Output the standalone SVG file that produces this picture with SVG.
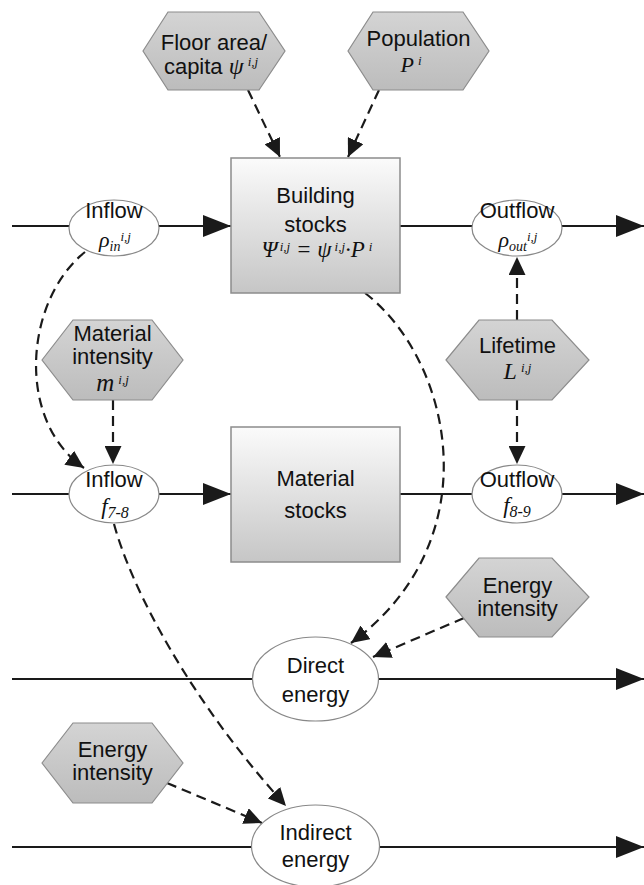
<svg xmlns="http://www.w3.org/2000/svg" width="644" height="885" viewBox="0 0 644 885">
<style>
.t{font-family:"Liberation Sans",Arial,sans-serif;font-size:22px;fill:#111;text-anchor:middle}
.m{font-family:"Liberation Serif","Times New Roman",serif;font-style:italic;fill:#111;text-anchor:middle}
.hex{fill:url(#hexg);stroke:#8c8c8c;stroke-width:1.2}
.box{fill:url(#boxg);stroke:#8c8c8c;stroke-width:1.5}
.ell{fill:#fff;stroke:#888;stroke-width:1.2}
.solid{fill:none;stroke:#1a1a1a;stroke-width:2.2}
.dash{fill:none;stroke:#1a1a1a;stroke-width:2.2;stroke-dasharray:10,6}
</style>
<defs>
<linearGradient id="hexg" x1="0" y1="0" x2="0" y2="1"><stop offset="0" stop-color="#d4d4d4"/><stop offset="1" stop-color="#bcbcbc"/></linearGradient>
<linearGradient id="boxg" x1="0" y1="0" x2="0" y2="1"><stop offset="0" stop-color="#fbfbfb"/><stop offset="1" stop-color="#c6c6c6"/></linearGradient>
<marker id="big" markerUnits="userSpaceOnUse" markerWidth="28" markerHeight="22" refX="28" refY="11" orient="auto"><path d="M0,0 L28,11 L0,22 z" fill="#1a1a1a"/></marker>
<marker id="small" markerUnits="userSpaceOnUse" markerWidth="18" markerHeight="17" refX="18" refY="8.5" orient="auto"><path d="M0,0 L18,8.5 L0,17 z" fill="#1a1a1a"/></marker>
</defs>

<g id="connectors">
<path class="solid" d="M12,226 H69"/>
<path class="solid" d="M159,226 H231" marker-end="url(#big)"/>
<path class="solid" d="M400,226 H472"/>
<path class="solid" d="M562,226 H644" marker-end="url(#big)"/>
<path class="solid" d="M12,494 H69"/>
<path class="solid" d="M159,494 H231" marker-end="url(#big)"/>
<path class="solid" d="M400,494 H472"/>
<path class="solid" d="M562,494 H644" marker-end="url(#big)"/>
<path class="solid" d="M12,679 H252"/>
<path class="solid" d="M379,679 H644" marker-end="url(#big)"/>
<path class="solid" d="M12,847 H251"/>
<path class="solid" d="M380,847 H644" marker-end="url(#big)"/>

<path class="dash" d="M248,90 L280,157" marker-end="url(#small)"/>
<path class="dash" d="M379,90 L348,157" marker-end="url(#small)"/>
<path class="dash" d="M85,252 C25,300 15,420 84,468" marker-end="url(#small)"/>
<path class="dash" d="M113,400 L113,464" marker-end="url(#small)"/>
<path class="dash" d="M365,293 C452,360 492,540 351,643" marker-end="url(#small)"/>
<path class="dash" d="M517,320 L517,257" marker-end="url(#small)"/>
<path class="dash" d="M517,400 L517,464" marker-end="url(#small)"/>
<path class="dash" d="M464,618 L373,657" marker-end="url(#small)"/>
<path class="dash" d="M114,524 C132,590 190,700 286,806" marker-end="url(#small)"/>
<path class="dash" d="M167,783 L262,823" marker-end="url(#small)"/>
</g>

<g id="floor-area">
<polygon class="hex" points="143,51 168,12 259,12 285,51 259,90 168,90"/>
<text class="t" x="214" y="50">Floor area/</text>
<text class="t" x="211" y="74">capita <tspan class="m" font-size="24">ψ</tspan><tspan class="m" font-size="13" dx="4" dy="-8">i,j</tspan></text>
</g>

<g id="population">
<polygon class="hex" points="348,51 373,12 463,12 489,51 463,90 373,90"/>
<text class="t" x="418.5" y="46">Population</text>
<text class="m" x="411" y="72" font-size="22">P<tspan font-size="13" dx="4" dy="-7">i</tspan></text>
</g>

<g id="building-stocks">
<rect class="box" x="231" y="158" width="169" height="135"/>
<text class="t" x="315.5" y="203" font-size="24">Building</text>
<text class="t" x="315.5" y="232" font-size="24">stocks</text>
<text class="m" x="317" y="257" font-size="23">Ψ<tspan font-size="13" dx="2" dy="-6">i,j</tspan><tspan dy="6"> = ψ</tspan><tspan font-size="13" dx="3" dy="-6">i,j</tspan><tspan dy="6">·P</tspan><tspan font-size="13" dx="4" dy="-6">i</tspan></text>
</g>

<g id="inflow-rho">
<ellipse class="ell" cx="114" cy="228" rx="45" ry="28"/>
<text class="t" x="114" y="218">Inflow</text>
<text class="m" x="115" y="247" font-size="22">ρ<tspan font-size="14" dy="4">in</tspan><tspan font-size="13" dy="-10">i,j</tspan></text>
</g>

<g id="outflow-rho">
<ellipse class="ell" cx="517" cy="228" rx="45" ry="28"/>
<text class="t" x="517" y="218" font-size="20">Outflow</text>
<text class="m" x="518" y="247" font-size="22">ρ<tspan font-size="14" dy="4">out</tspan><tspan font-size="13" dy="-10">i,j</tspan></text>
</g>

<g id="material-intensity">
<polygon class="hex" points="42,360 73,320 152,320 183,360 152,400 73,400"/>
<text class="t" x="112.5" y="341" font-size="21">Material</text>
<text class="t" x="112.5" y="364" font-size="21">intensity</text>
<text class="m" x="112.5" y="391" font-size="25">m<tspan font-size="13" dx="4" dy="-7">i,j</tspan></text>
</g>

<g id="lifetime">
<polygon class="hex" points="446,360 479,320 552,320 589,360 552,400 479,400"/>
<text class="t" x="517.5" y="353">Lifetime</text>
<text class="m" x="517.5" y="379" font-size="24">L<tspan font-size="13" dx="4" dy="-7">i,j</tspan></text>
</g>

<g id="inflow-f">
<ellipse class="ell" cx="114" cy="494" rx="45" ry="29"/>
<text class="t" x="114" y="487">Inflow</text>
<text class="m" x="115" y="514" font-size="23">f<tspan font-size="16" dy="4">7-8</tspan></text>
</g>

<g id="material-stocks">
<rect class="box" x="231" y="427" width="169" height="135"/>
<text class="t" x="315.5" y="486" font-size="25">Material</text>
<text class="t" x="315.5" y="518" font-size="25">stocks</text>
</g>

<g id="outflow-f">
<ellipse class="ell" cx="517" cy="494" rx="45" ry="29"/>
<text class="t" x="517" y="487" font-size="20">Outflow</text>
<text class="m" x="517" y="513" font-size="23">f<tspan font-size="16" dy="4">8-9</tspan></text>
</g>

<g id="energy-intensity-direct">
<polygon class="hex" points="446,597 479,558 552,558 589,597 552,637 479,637"/>
<text class="t" x="517.5" y="593">Energy</text>
<text class="t" x="517.5" y="616">intensity</text>
</g>

<g id="direct-energy">
<ellipse class="ell" cx="315.5" cy="679" rx="63" ry="42"/>
<text class="t" x="315.5" y="673">Direct</text>
<text class="t" x="315.5" y="702">energy</text>
</g>

<g id="energy-intensity-indirect">
<polygon class="hex" points="42,763 73,723 152,723 183,763 152,803 73,803"/>
<text class="t" x="112.5" y="757">Energy</text>
<text class="t" x="112.5" y="780">intensity</text>
</g>

<g id="indirect-energy">
<ellipse class="ell" cx="315.5" cy="846" rx="64" ry="41"/>
<text class="t" x="315.5" y="840">Indirect</text>
<text class="t" x="315.5" y="867">energy</text>
</g>
</svg>
